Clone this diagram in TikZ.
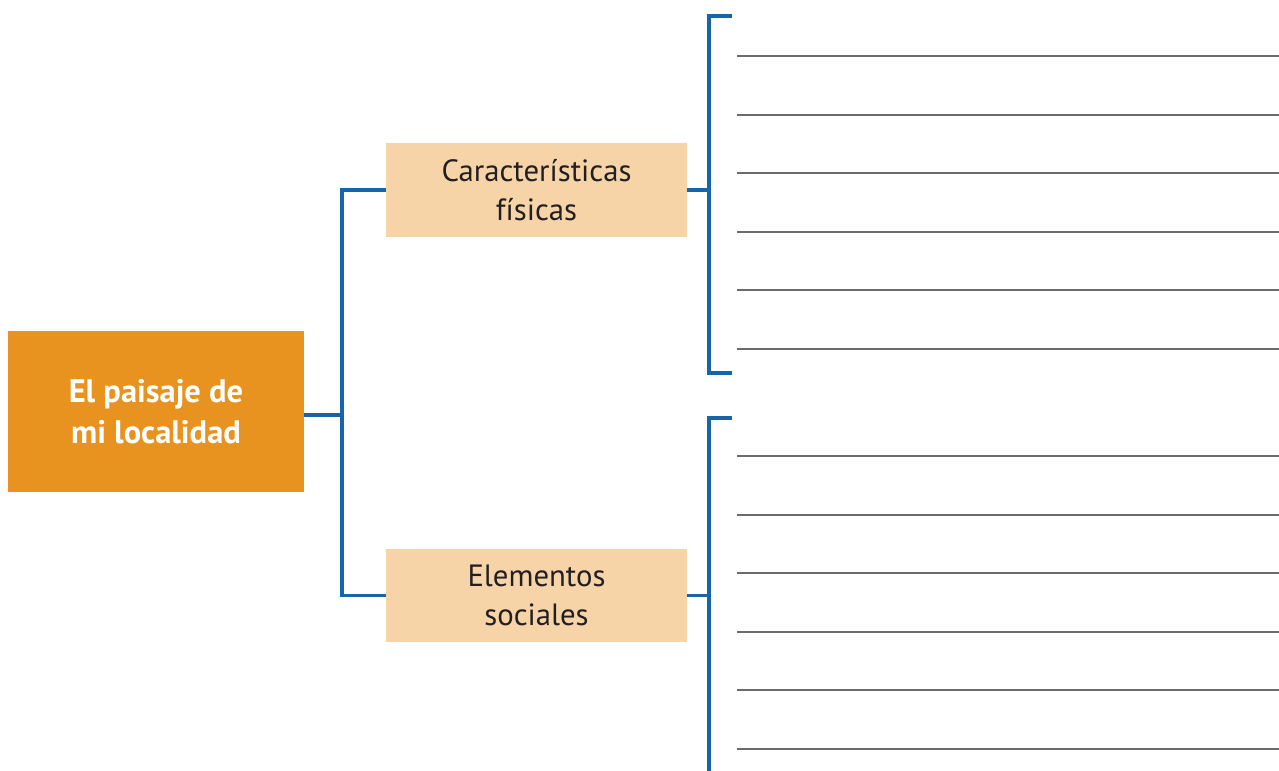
\documentclass[tikz,border=0pt]{standalone}
\usepackage{fontspec}
\setmainfont{PT Sans}
\definecolor{naranja}{HTML}{E8921F}
\definecolor{crema}{HTML}{F6D4A8}
\definecolor{azul}{HTML}{1565A8}
\definecolor{renglon}{HTML}{6A6A6A}
\definecolor{tinta}{HTML}{231F20}
\begin{document}
\begin{tikzpicture}[x=0.02cm,y=-0.02cm]
\useasboundingbox (0,0) rectangle (1279,771);
\tikzset{
  tema/.style={fill=crema, text=tinta, minimum width=6.02cm, minimum height=1.88cm,
    align=center, font=\fontsize{17.5}{22.5}\selectfont},
  enlace/.style={azul, line width=2.1pt},
  linea/.style={renglon, line width=1.1pt}
}
\node [fill=naranja, text=white, minimum width=5.92cm, minimum height=3.22cm, align=center,
  font=\fontsize{18.5}{23}\selectfont\bfseries] (paisaje) at (156,411.5) {El paisaje de\\mi localidad};
\node [tema] (fisicas) at (536.5,190) {Características\\físicas};
\node [tema] (sociales) at (536.5,595.5) {Elementos\\sociales};

% ramas
\coordinate (rama) at (342,415);
\draw [enlace] (paisaje.east |- rama) -- (rama);
\draw [enlace] (fisicas.west) -| (rama) |- (sociales.west);

% llaves
\coordinate (llaveA) at (709,16);
\coordinate (llaveB) at (709,418);
\draw [enlace] (fisicas.east) -- (fisicas.east -| llaveA);
\draw [enlace] (sociales.east) -- (sociales.east -| llaveB);
\draw [enlace] ([xshift=0.46cm]llaveA) -- (llaveA) -- ++(0,357) -- ++(23,0);
\draw [enlace] ([xshift=0.46cm]llaveB) -- (llaveB) -- (709,775);

\foreach \y in {0,...,5}
{
       \draw [linea] (737,56+58.6*\y) -- (1279,56+58.6*\y);
       \draw [linea] (737,456+58.6*\y) -- (1279,456+58.6*\y);
}
\end{tikzpicture}
\end{document}
